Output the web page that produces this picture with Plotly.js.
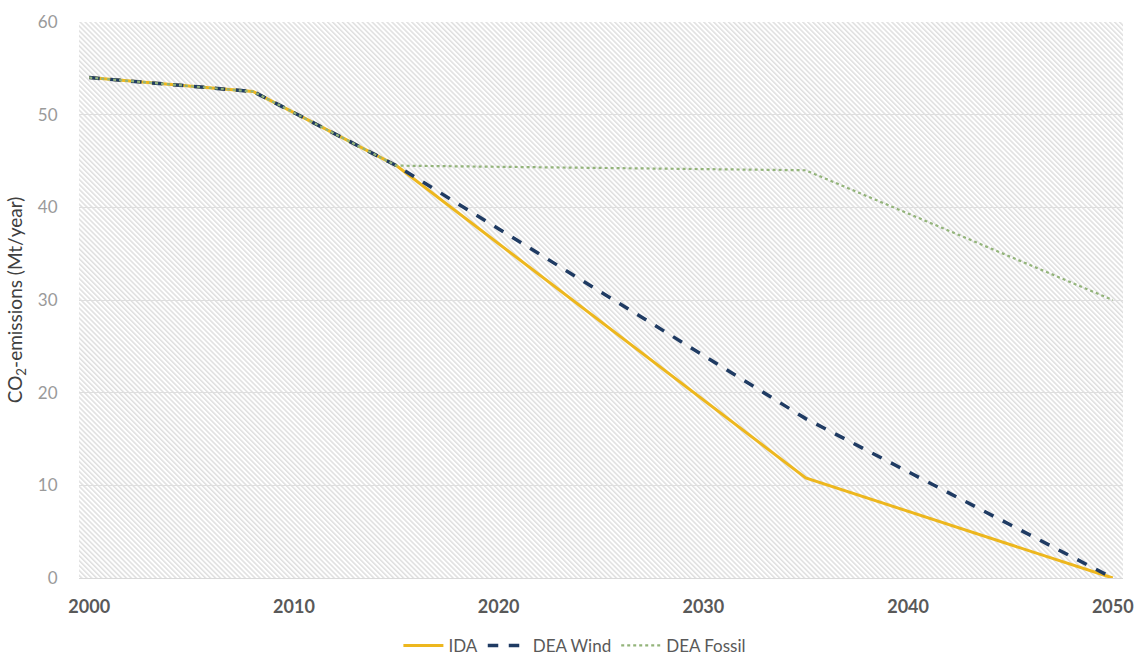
<!DOCTYPE html>
<html>
<head>
<meta charset="utf-8">
<script src="https://cdn.plot.ly/plotly-3.0.1.min.js"></script>
<style>html,body{margin:0;padding:0;background:#fff;}#chart{width:1136px;height:659px;}</style>
</head>
<body>
<div id="chart"></div>
<script>
// Data
const years = [2000, 2008, 2015, 2035, 2050];
const ida = [54, 52.5, 44.5, 10.8, 0];
const deaWind = [54, 52.5, 44.5, 17.2, 0];
const deaFossil = [54, 52.5, 44.5, 44.0, 30.0];
const xTicks = [2000, 2010, 2020, 2030, 2040, 2050];
const xGrid = [2009.5, 2019.5, 2029.5, 2039.5, 2049.5];
const yTicks = [0, 10, 20, 30, 40, 50, 60];

const hatch = 'data:image/svg+xml;utf8,' + encodeURIComponent(
  '<svg xmlns="http://www.w3.org/2000/svg" width="1044" height="556" viewBox="0 0 1044 556" preserveAspectRatio="none">' +
  '<defs><pattern id="p" width="3.5" height="3.5" patternUnits="userSpaceOnUse" patternTransform="rotate(-45)">' +
  '<line x1="0.8" y1="0" x2="0.8" y2="3.5" stroke="#d6d6d6" stroke-width="1.2"/></pattern></defs>' +
  '<rect width="1044" height="556" fill="#ffffff"/><rect width="1044" height="556" fill="url(#p)"/></svg>');

const font = "Lato, 'Open Sans', sans-serif";

const traces = [
  {x: years, y: ida, name: 'IDA', type: 'scatter', mode: 'lines',
   line: {color: '#EDB71E', width: 3}},
  {x: years, y: deaWind, name: 'DEA Wind', type: 'scatter', mode: 'lines',
   line: {color: '#1F3B63', width: 3.5, dash: 'dash'}},
  {x: years, y: deaFossil, name: 'DEA Fossil', type: 'scatter', mode: 'lines',
   line: {color: '#93B47A', width: 2.2, dash: 'dot'}}
];

const layout = {
  width: 1136, height: 659,
  margin: {l: 79, r: 13, t: 22, b: 81, autoexpand: false},
  paper_bgcolor: '#ffffff',
  plot_bgcolor: 'rgba(0,0,0,0)',
  font: {family: font, color: '#595959', size: 14},
  showlegend: true,
  legend: {orientation: 'h', x: 0.475, xanchor: 'center', y: -0.122, yanchor: 'middle',
           font: {size: 17, color: '#595959'}, itemwidth: 40, traceorder: 'normal'},
  images: [{source: hatch, xref: 'paper', yref: 'paper', x: 0, y: 1, sizex: 1, sizey: 1,
            sizing: 'stretch', xanchor: 'left', yanchor: 'top', layer: 'below'}],
  xaxis: {range: [1999.5, 2050.5], tickmode: 'array', tickvals: xTicks, ticktext: xTicks.map(String),
          showgrid: false, zeroline: false, showline: true, linecolor: '#d9d9d9', linewidth: 1,
          ticks: 'outside', ticklen: 12, tickcolor: 'rgba(0,0,0,0)',
          tickfont: {size: 18, color: '#595959', family: font, weight: 'bold'}},
  xaxis2: {overlaying: 'x', matches: 'x', range: [1999.5, 2050.5], tickmode: 'array', tickvals: xGrid,
           showticklabels: false, showgrid: true, gridcolor: '#dedede', gridwidth: 1, zeroline: false, ticks: ''},
  yaxis: {range: [0, 60], tickmode: 'array', tickvals: yTicks, showgrid: true, gridcolor: '#dedede', gridwidth: 1,
          zeroline: false, showline: false, ticks: 'outside', ticklen: 17, tickcolor: 'rgba(0,0,0,0)',
          tickfont: {size: 17, color: '#9a9a9a', family: font},
          title: {text: 'CO<sub>2</sub>-emissions (Mt/year)', font: {size: 19, color: '#404040', family: font}, standoff: 10}}
};

Plotly.newPlot('chart', traces, layout, {displayModeBar: false, staticPlot: true});
</script>
</body>
</html>
